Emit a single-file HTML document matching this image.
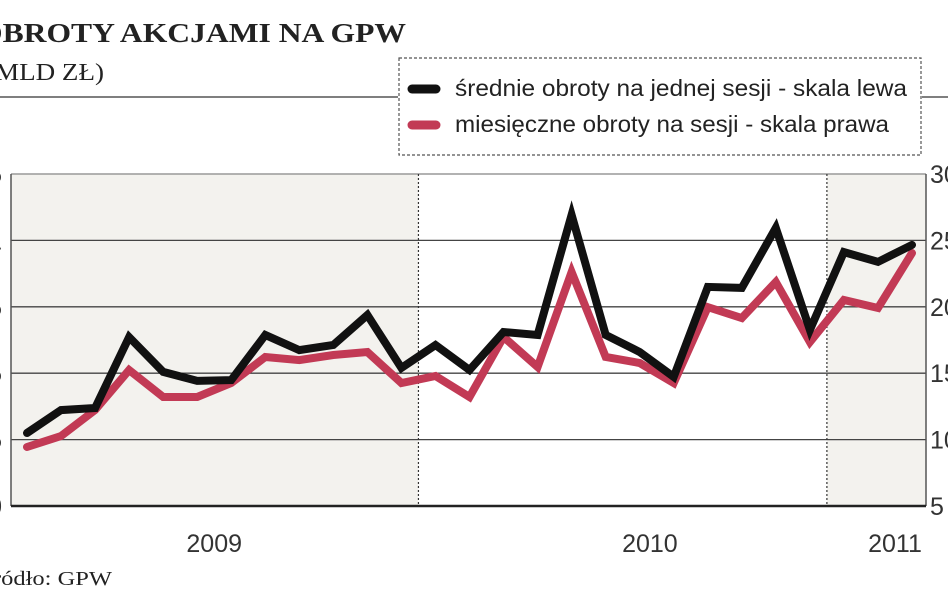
<!DOCTYPE html>
<html><head><meta charset="utf-8"><style>
html,body{margin:0;padding:0;background:#fff;}
svg{display:block;}
</style></head><body>
<svg id="chart" width="948" height="593" viewBox="0 0 948 593" xmlns="http://www.w3.org/2000/svg">
<text x="-22" y="42" font-family="Liberation Serif, serif" font-weight="bold" font-size="27" textLength="428" lengthAdjust="spacingAndGlyphs" fill="#222">OBROTY AKCJAMI NA GPW</text>
<text x="-14" y="80" font-family="Liberation Serif, serif" font-size="24" textLength="118" lengthAdjust="spacingAndGlyphs" fill="#222">(MLD ZŁ)</text>
<line x1="0" y1="97" x2="398" y2="97" stroke="#555" stroke-width="1.5"/>
<line x1="922" y1="97" x2="948" y2="97" stroke="#555" stroke-width="1.5"/>
<g>
<rect x="399" y="58" width="522" height="97" fill="#fff" stroke="#555" stroke-width="1.2" stroke-dasharray="3,2"/>
<line x1="412" y1="89" x2="436" y2="89" stroke="#111" stroke-width="9" stroke-linecap="round"/>
<text x="455" y="96" font-family="Liberation Sans, sans-serif" font-size="23" textLength="452" lengthAdjust="spacingAndGlyphs" fill="#222">średnie obroty na jednej sesji - skala lewa</text>
<line x1="412" y1="125" x2="436" y2="125" stroke="#c23a55" stroke-width="9" stroke-linecap="round"/>
<text x="455" y="132" font-family="Liberation Sans, sans-serif" font-size="23" textLength="434" lengthAdjust="spacingAndGlyphs" fill="#222">miesięczne obroty na sesji - skala prawa</text>
</g>
<g id="plot"></g>
<text x="-22" y="585" font-family="Liberation Serif, serif" font-size="20" textLength="134" lengthAdjust="spacingAndGlyphs" fill="#222">Źródło: GPW</text>
</svg>
<script>
const months = ['2009-01','2009-02','2009-03','2009-04','2009-05','2009-06','2009-07','2009-08','2009-09','2009-10','2009-11','2009-12','2010-01','2010-02','2010-03','2010-04','2010-05','2010-06','2010-07','2010-08','2010-09','2010-10','2010-11','2010-12','2011-01','2011-02','2011-03'];
const avgSession = [0.275,0.361,0.369,0.636,0.505,0.471,0.474,0.644,0.587,0.606,0.719,0.520,0.606,0.512,0.655,0.644,1.096,0.644,0.580,0.486,0.825,0.821,1.047,0.663,0.956,0.919,0.983];
const monthlySession = [9.44,10.27,12.23,15.24,13.21,13.21,14.26,16.22,15.99,16.37,16.60,14.26,14.79,13.21,17.73,15.47,22.62,16.22,15.77,14.26,19.98,19.16,21.87,17.35,20.51,19.91,24.05];
const rightTicks = [5,10,15,20,25,30];
const leftTicks = [0,0.25,0.5,0.75,1,1.25];
const yearLabels = ['2009','2010','2011'];
const yearCenters = [5.5,18.3,25.5];

const NS='http://www.w3.org/2000/svg';
const plot=document.getElementById('plot');
const X0=11,X1=926,Y0=174,Y1=506;
const xS=i=>27+i*(912-27)/(months.length-1);
const yR=v=>Y1-(v-5)/(30-5)*(Y1-Y0);
const yL=v=>Y1-(v-0)/(1.25-0)*(Y1-Y0);
function mk(t,a){const e=document.createElementNS(NS,t);for(const k in a)e.setAttribute(k,a[k]);plot.appendChild(e);return e;}
const bx1=(xS(11)+xS(12))/2, bx2=(xS(23)+xS(24))/2;
let e;
e=mk('rect',{x:X0,y:Y0,width:bx1-X0,height:Y1-Y0,fill:'#f3f2ee'});


e=mk('rect',{x:bx2,y:Y0,width:X1-bx2,height:Y1-Y0,fill:'#f3f2ee'});


rightTicks.forEach((t,i)=>{
  const y=yR(t);
  if(i>0&&i<rightTicks.length-1){
    e=mk('line',{x1:X0,y1:y,x2:X1,y2:y,stroke:'#444','stroke-width':1.3});
    
    
  }
  e=mk('text',{x:930,y:y+9,'font-family':'Liberation Sans, sans-serif','font-size':25,fill:'#333'});
  e.textContent=String(t);
  
  
});
leftTicks.forEach(t=>{
  e=mk('text',{x:2,y:yL(t)+9,'font-family':'Liberation Sans, sans-serif','font-size':25,fill:'#333','text-anchor':'end'});
  e.textContent=String(t).replace('.',',');
  
  
});
e=mk('line',{x1:X0,y1:Y0,x2:X1,y2:Y0,stroke:'#999','stroke-width':1.5});


e=mk('line',{x1:X0,y1:Y0,x2:X0,y2:Y1,stroke:'#555','stroke-width':1.5});


e=mk('line',{x1:X1,y1:Y0,x2:X1,y2:Y1,stroke:'#555','stroke-width':1.5});


e=mk('line',{x1:X0,y1:Y1,x2:X1,y2:Y1,stroke:'#222','stroke-width':2.5});


[bx1,bx2].forEach(x=>{
  e=mk('line',{x1:x,y1:Y0,x2:x,y2:Y1,stroke:'#333','stroke-width':1.2,'stroke-dasharray':'2,2'});
  
  
});
function series(vals,ys,color,name){
  const d=vals.map((v,i)=>(i?'L':'M')+xS(i).toFixed(1)+','+ys(v).toFixed(1)).join(' ');
  const p=mk('path',{d:d,fill:'none',stroke:color,'stroke-width':8,'stroke-linejoin':'miter','stroke-linecap':'round'});
  
  
}
series(monthlySession,yR,'#c23a55','line-monthly-session');
series(avgSession,yL,'#111','line-average-session');
yearLabels.forEach((l,i)=>{
  e=mk('text',{x:xS(yearCenters[i]),y:552,'font-family':'Liberation Sans, sans-serif','font-size':25,fill:'#333','text-anchor':'middle'});
  e.textContent=l;
  
  
});
</script>
</body></html>
